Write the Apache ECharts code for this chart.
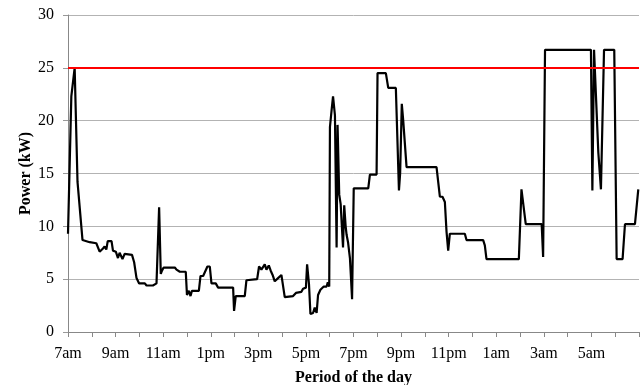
<!DOCTYPE html>
<html>
<head>
<meta charset="utf-8">
<script src="https://cdn.jsdelivr.net/npm/echarts@6/dist/echarts.min.js"></script>
<style>html,body{margin:0;padding:0;background:#fff;}#c{width:641px;height:385px;}</style>
</head>
<body>
<div id="c"></div>
<script>
// hours since 7am
const hours = [0.00,0.14,0.28,0.40,0.61,0.91,1.19,1.33,1.47,1.54,1.61,1.67,1.83,1.89,2.01,2.10,2.17,2.29,2.38,2.69,2.78,2.88,2.99,3.23,3.30,3.57,3.72,3.80,3.83,3.90,3.95,4.02,4.49,4.56,4.70,4.95,5.00,5.08,5.15,5.21,5.50,5.57,5.68,5.75,5.86,5.96,6.03,6.21,6.31,6.94,6.98,7.05,7.43,7.50,7.95,8.03,8.13,8.27,8.34,8.44,8.52,8.60,8.69,8.83,8.97,9.11,9.46,9.58,9.81,9.88,10.00,10.05,10.13,10.19,10.30,10.37,10.45,10.51,10.61,10.75,10.87,10.92,10.98,11.01,11.08,11.14,11.22,11.29,11.33,11.40,11.46,11.52,11.56,11.61,11.67,11.71,11.77,11.85,11.94,12.01,12.62,12.69,12.97,13.01,13.36,13.46,13.78,13.91,13.96,14.03,14.09,14.23,15.49,15.63,15.74,15.84,15.91,15.98,16.05,16.68,16.75,17.45,17.52,17.59,18.95,19.06,19.24,19.91,19.97,20.05,21.98,22.04,22.11,22.29,22.40,22.53,22.96,23.06,23.31,23.41,23.83,23.97];
const power = [9.3,22.3,25.0,14.2,8.7,8.5,8.4,7.6,7.9,8.1,7.8,8.6,8.6,7.7,7.6,7.0,7.5,6.9,7.4,7.3,6.6,5.1,4.6,4.6,4.4,4.4,4.6,4.7,11.8,5.5,5.8,6.1,6.1,5.9,5.7,5.7,3.5,3.9,3.4,3.9,3.9,5.3,5.3,5.2,6.2,6.2,4.6,4.6,4.2,4.2,2.0,3.4,3.4,4.9,5.0,6.2,5.9,6.4,5.9,6.3,5.8,5.4,4.8,5.1,5.4,3.3,3.4,3.7,3.8,4.1,4.2,6.4,4.5,1.7,1.8,2.3,1.8,3.5,4.0,4.3,4.3,4.7,4.3,19.4,21.0,22.3,20.5,8.0,19.6,13.0,12.1,12.2,8.0,12.0,10.0,9.2,8.5,7.0,3.1,13.6,13.6,14.9,14.9,24.5,24.5,23.1,23.1,13.4,15.0,21.6,20.0,15.6,15.6,12.8,12.8,12.3,9.5,7.7,9.3,9.3,8.7,8.7,8.2,6.9,6.9,13.5,10.2,10.2,7.1,26.7,26.7,13.4,26.7,17.0,13.5,26.7,26.7,6.9,6.9,10.2,10.2,13.5];
const tickLabels = ['7am','9am','11am','1pm','3pm','5pm','7pm','9pm','11pm','1am','3am','5am'];
const limit = 25;

const font = '"Liberation Serif","Times New Roman",serif';
const chart = echarts.init(document.getElementById('c'));
chart.setOption({
  animation: false,
  grid: {left: 68, right: 2, top: 15, bottom: 53, outerBoundsMode: 'none', containLabel: false},
  xAxis: {
    type: 'value', min: 0, max: 24, interval: 1,
    name: 'Period of the day', nameLocation: 'middle', nameGap: 38, nameMoveOverlap: false,
    nameTextStyle: {fontFamily: font, fontWeight: 'bold', fontSize: 16, color: '#000'},
    axisLine: {show: true, lineStyle: {color: '#888', width: 1}},
    axisTick: {show: true, length: 5, lineStyle: {color: '#888'}},
    axisLabel: {
      fontFamily: font, fontSize: 16, color: '#000', margin: 14,
      formatter: v => (v % 2 === 0 && v / 2 < tickLabels.length) ? tickLabels[v / 2] : ''
    },
    splitLine: {show: false}
  },
  yAxis: {
    type: 'value', min: 0, max: 30, interval: 5,
    name: 'Power (kW)', nameLocation: 'middle', nameGap: 34, nameMoveOverlap: false,
    nameTextStyle: {fontFamily: font, fontWeight: 'bold', fontSize: 16, color: '#000'},
    axisLine: {show: true, lineStyle: {color: '#888', width: 1}},
    axisTick: {show: true, length: 5, lineStyle: {color: '#999'}},
    axisLabel: {fontFamily: font, fontSize: 16, color: '#000', margin: 14},
    splitLine: {show: true, lineStyle: {color: '#b3b3b3', width: 1}}
  },
  series: [{
    type: 'line',
    data: hours.map((h, i) => [h, power[i]]),
    showSymbol: false,
    lineStyle: {color: '#000', width: 2.2},
    z: 3,
    markLine: {
      silent: true, symbol: 'none', label: {show: false},
      lineStyle: {color: '#ff0000', width: 2, type: 'solid'},
      data: [{yAxis: limit}],
      z: 4
    }
  }]
});
</script>
</body>
</html>
